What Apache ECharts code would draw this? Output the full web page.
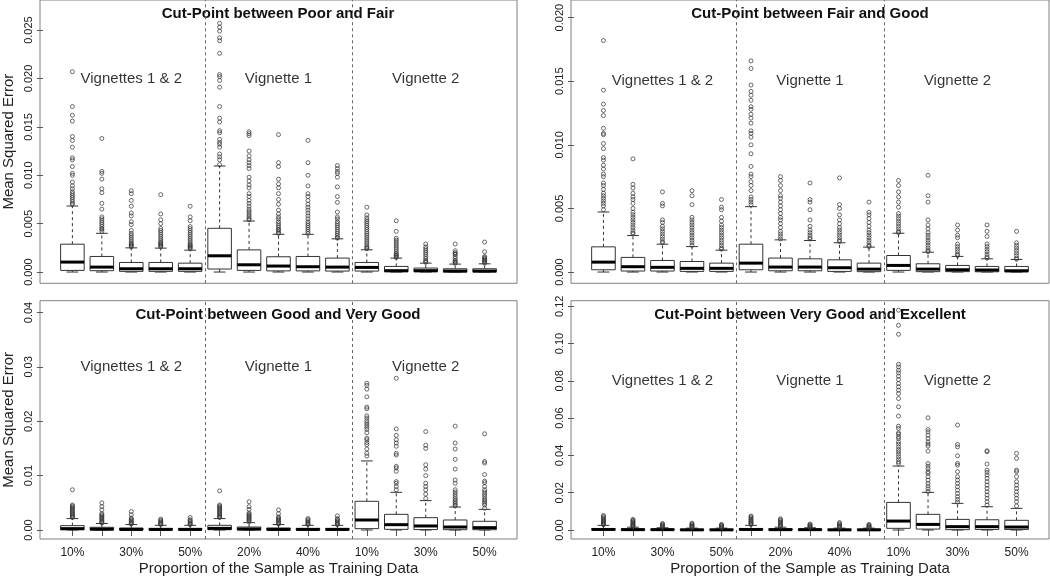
<!DOCTYPE html>
<html><head><meta charset="utf-8">
<script src="https://cdn.jsdelivr.net/npm/echarts@6/dist/echarts.min.js"></script>
<style>html,body{margin:0;padding:0;background:#fff}#c{width:1050px;height:577px}</style>
</head><body><div id="c"></div><script>
const panelTitles = ["Cut-Point between Poor and Fair","Cut-Point between Fair and Good","Cut-Point between Good and Very Good","Cut-Point between Very Good and Excellent"];
const groupLabels = ["Vignettes 1 & 2","Vignette 1","Vignette 2"];
const groupCenters = [3, 8, 13];
const groupLabelY = [0.020, 0.015, 0.030, 0.080];
const boxPositions = [1,2,3,4,5,6,7,8,9,10,11,12,13,14,15];
const xTickLabels = ["10%","20%","30%","40%","50%","10%","20%","30%","40%","50%","10%","20%","30%","40%","50%"];
const xLabelPositions = [1,3,5,7,9,11,13,15];
const groupSeparators = [5.5, 10.5];
const yTicks1 = [0, 0.005, 0.010, 0.015, 0.020, 0.025];
const yTicks2 = [0, 0.005, 0.010, 0.015, 0.020];
const yTicks3 = [0, 0.01, 0.02, 0.03, 0.04];
const yTicks4 = [0, 0.02, 0.04, 0.06, 0.08, 0.10, 0.12];
const yTitle = "Mean Squared Error";
const xTitle = "Proportion of the Sample as Training Data";

// [lower whisker, Q1, median, Q3, upper whisker]
const stats1 = [
 [0,0.00017,0.00103,0.00288,0.00682],[0,0.00014,0.00051,0.00161,0.0040],[0,0.00007,0.00034,0.00099,0.0025],
 [0,0.00007,0.00034,0.00099,0.00247],[0,0.00007,0.00034,0.00092,0.00226],[0,0.00031,0.00168,0.00452,0.01096],
 [0,0.00017,0.00075,0.00229,0.00527],[0,0.00012,0.00062,0.00158,0.0039],[0,0.00012,0.00055,0.00161,0.0039],
 [0,0.00010,0.00051,0.00144,0.00343],[0,0.0001,0.00048,0.00099,0.0023],[0,0.00003,0.00014,0.00058,0.00144],
 [0,0.00003,0.00014,0.00041,0.00092],[0,0.00002,0.0001,0.00034,0.00082],[0,0.00002,0.0001,0.00034,0.00085]];
const out1 = [
 [0.0207,0.0171,0.0162,0.0156,0.0140,0.0136,0.0129,0.0118,0.0116,0.0109,0.0102,0.0100,0.0093,0.0089,0.0086,0.0083,0.0081,0.0079,0.0077,0.0075,0.0073,0.0071,0.0070],
 [0.0138,0.0104,0.0102,0.0096,0.0086,0.0082,0.0071,0.0065,0.0057,0.0055,0.0053,0.0051,0.0049,0.0047,0.0045,0.0044,0.0042],
 [0.0084,0.0081,0.0074,0.0068,0.0061,0.0058,0.0052,0.0049,0.0043,0.0040,0.0038,0.0036,0.0034,0.0032,0.0030,0.0029,0.0028,0.0027,0.0026],
 [0.0080,0.0060,0.0054,0.0050,0.0045,0.0043,0.0041,0.0039,0.0037,0.0035,0.0033,0.0031,0.0030,0.0029,0.0028,0.0027,0.0026],
 [0.0068,0.0057,0.0053,0.0047,0.0045,0.0043,0.0041,0.0039,0.0037,0.0035,0.0033,0.0031,0.0029,0.0028,0.0027,0.0026,0.0025,0.0024],
 [0.0257,0.0253,0.0249,0.0242,0.0239,0.0226,0.0204,0.0202,0.0198,0.0191,0.0171,0.0159,0.0155,0.0146,0.0144,0.0137,0.0134,0.0132,0.0129,0.0122,0.0119,0.0116,0.0111],
 [0.0145,0.0143,0.0141,0.0125,0.0120,0.0116,0.0113,0.0110,0.0107,0.0098,0.0094,0.0090,0.0087,0.0081,0.0078,0.0074,0.0071,0.0068,0.0065,0.0063,0.0061,0.0059,0.0057,0.0055,0.0054],
 [0.0142,0.0113,0.0109,0.0096,0.0091,0.0087,0.0081,0.0075,0.0070,0.0064,0.0060,0.0057,0.0055,0.0052,0.0050,0.0048,0.0046,0.0044,0.0043,0.0041,0.0040],
 [0.0136,0.0113,0.0100,0.0089,0.0081,0.0078,0.0074,0.0070,0.0067,0.0064,0.0061,0.0058,0.0055,0.0052,0.0050,0.0048,0.0046,0.0044,0.0042,0.0040],
 [0.0110,0.0107,0.0104,0.0102,0.0098,0.0088,0.0078,0.0072,0.0062,0.0057,0.0055,0.0052,0.0050,0.0048,0.0046,0.0044,0.0042,0.0040,0.0038,0.0036,0.0035],
 [0.0067,0.0059,0.0056,0.0054,0.0052,0.0050,0.0048,0.0046,0.0044,0.0042,0.0040,0.0038,0.0036,0.0034,0.0032,0.0030,0.0028,0.0026,0.0025,0.0024],
 [0.0053,0.0042,0.0035,0.0033,0.0031,0.0029,0.0027,0.0025,0.0023,0.0021,0.0019,0.0018,0.0017,0.0016,0.0015],
 [0.0029,0.0026,0.0024,0.0022,0.0020,0.0018,0.0016,0.0014,0.0012,0.0011,0.0010],
 [0.0029,0.0022,0.0020,0.0019,0.0018,0.0016,0.0014,0.0012,0.0011,0.0010,0.0009],
 [0.0031,0.0021,0.0016,0.0015,0.0014,0.0013,0.0012,0.0011,0.0010,0.0009]];

const stats2 = [
 [0,0.00018,0.00078,0.00198,0.00472],[0,0.00008,0.00042,0.00115,0.00287],[0,0.00008,0.00037,0.00091,0.00219],
 [0,0.00005,0.00029,0.00083,0.0020],[0,0.00005,0.00029,0.0007,0.00172],[0,0.00018,0.0007,0.00219,0.00514],
 [0,0.00010,0.00039,0.0011,0.00253],[0,0.00010,0.00039,0.00104,0.00248],[0,0.00005,0.00034,0.00096,0.0023],
 [0,0.00003,0.00023,0.0007,0.00196],[0,0.00013,0.00052,0.0013,0.00305],[0,0.00003,0.00023,0.00065,0.00156],
 [0,0.00003,0.00018,0.00052,0.00123],[0,0.00002,0.00016,0.00044,0.00104],[0,0.00002,0.0001,0.00044,0.00099]];
const out2 = [
 [0.0182,0.0143,0.0132,0.0127,0.0123,0.0113,0.0109,0.0108,0.0101,0.0097,0.0090,0.0088,0.0084,0.0081,0.0077,0.0075,0.0070,0.0068,0.0065,0.0062,0.0060,0.0058,0.0056,0.0054,0.0052,0.0049],
 [0.0089,0.0069,0.0066,0.0062,0.0059,0.0057,0.0054,0.0050,0.0047,0.0045,0.0043,0.0041,0.0039,0.0037,0.0035,0.0033,0.0031,0.0030],
 [0.0063,0.0054,0.0052,0.0041,0.0039,0.0036,0.0034,0.0032,0.0030,0.0028,0.0026,0.0024,0.0023],
 [0.0064,0.0060,0.0053,0.0043,0.0041,0.0039,0.0037,0.0035,0.0033,0.0031,0.0029,0.0027,0.0025,0.0023,0.0021],
 [0.0057,0.0051,0.0049,0.0043,0.0040,0.0037,0.0035,0.0033,0.0031,0.0029,0.0027,0.0025,0.0023,0.0021,0.0019,0.0018],
 [0.0166,0.0160,0.0147,0.0142,0.0139,0.0135,0.0130,0.0128,0.0124,0.0121,0.0117,0.0111,0.0109,0.0106,0.0100,0.0093,0.0083,0.0077,0.0075,0.0071,0.0068,0.0064,0.0059,0.0057,0.0055,0.0053],
 [0.0075,0.0072,0.0068,0.0064,0.0060,0.0058,0.0055,0.0052,0.0049,0.0046,0.0043,0.0041,0.0038,0.0035,0.0032,0.0030,0.0028,0.0026],
 [0.0070,0.0057,0.0055,0.0049,0.0041,0.0036,0.0033,0.0031,0.0029,0.0027,0.0026],
 [0.0074,0.0053,0.0050,0.0045,0.0041,0.0038,0.0035,0.0033,0.0031,0.0029,0.0027,0.0025,0.0024],
 [0.0055,0.0047,0.0045,0.0042,0.0039,0.0036,0.0033,0.0031,0.0029,0.0027,0.0025,0.0023,0.0021,0.0020],
 [0.0072,0.0068,0.0063,0.0059,0.0055,0.0051,0.0046,0.0044,0.0042,0.0040,0.0038,0.0036,0.0034,0.0032,0.0031],
 [0.0076,0.0060,0.0055,0.0041,0.0037,0.0034,0.0031,0.0029,0.0027,0.0025,0.0023,0.0021,0.0019,0.0017,0.0016],
 [0.0037,0.0033,0.0029,0.0027,0.0022,0.0020,0.0018,0.0016,0.0014,0.0013],
 [0.0037,0.0032,0.0028,0.0022,0.0020,0.0018,0.0016,0.0014,0.0012,0.0011],
 [0.0032,0.0023,0.0021,0.0019,0.0017,0.0015,0.0013,0.0011,0.0010]];

const stats3 = [
 [0,0.00005,0.00025,0.0008,0.0021],[0,0.00003,0.00015,0.0005,0.0012],[0,0.00002,0.0001,0.00037,0.001],
 [0,0.00002,0.0001,0.0003,0.00086],[0,0.00002,0.0001,0.0003,0.00086],[0,0.00006,0.0003,0.00086,0.0021],
 [0,0.00003,0.00018,0.00055,0.00135],[0,0.00002,0.0001,0.00037,0.001],[0,0.00002,0.0001,0.0003,0.00086],
 [0,0.00002,0.0001,0.0003,0.00086],[0,0.00025,0.00184,0.00528,0.0127],[0,0.00012,0.00098,0.00288,0.00693],
 [0,0.00008,0.00074,0.00227,0.0054],[0,0.00006,0.00055,0.00184,0.00423],[0,0.00005,0.00043,0.0016,0.0038]];
const out3 = [
 [0.0074,0.0046,0.0044,0.0042,0.0040,0.0038,0.0036,0.0034,0.0032,0.0030,0.0028,0.0026,0.0024,0.0023],
 [0.0050,0.0043,0.0037,0.0030,0.0028,0.0026,0.0024,0.0022,0.0020,0.0018,0.0016,0.0014,0.0013],
 [0.0034,0.0028,0.0022,0.0020,0.0018,0.0016,0.0014,0.0012,0.0011],
 [0.0020,0.0018,0.0016,0.0014,0.0012,0.0011,0.0010],
 [0.0023,0.0019,0.0017,0.0015,0.0013,0.0011,0.0010],
 [0.0072,0.0046,0.0044,0.0042,0.0040,0.0038,0.0036,0.0034,0.0032,0.0030,0.0028,0.0026,0.0024,0.0023],
 [0.0052,0.0043,0.0038,0.0031,0.0029,0.0027,0.0025,0.0023,0.0021,0.0019,0.0017,0.0015],
 [0.0037,0.0030,0.0024,0.0022,0.0020,0.0018,0.0016,0.0014,0.0012,0.0011],
 [0.0021,0.0019,0.0017,0.0015,0.0013,0.0011,0.0010],
 [0.0026,0.0021,0.0019,0.0017,0.0015,0.0013,0.0011,0.0010],
 [0.0270,0.0266,0.0259,0.0245,0.0226,0.0223,0.0210,0.0206,0.0201,0.0197,0.0193,0.0189,0.0185,0.0179,0.0169,0.0166,0.0161,0.0157,0.0149,0.0141,0.0136],
 [0.0279,0.0186,0.0174,0.0166,0.0160,0.0154,0.0141,0.0138,0.0117,0.0114,0.0108,0.0089,0.0086,0.0080,0.0074],
 [0.0181,0.0156,0.0150,0.0120,0.0112,0.0100,0.0086,0.0080,0.0074,0.0066,0.0058],
 [0.0191,0.0160,0.0149,0.0130,0.0112,0.0092,0.0086,0.0074,0.0070,0.0066,0.0062,0.0058,0.0055,0.0052,0.0049,0.0046,0.0044],
 [0.0177,0.0126,0.0123,0.0102,0.0090,0.0087,0.0080,0.0074,0.0070,0.0066,0.0062,0.0058,0.0055,0.0052,0.0049,0.0046,0.0040]];

const stats4 = [
 [0,0.0001,0.0003,0.0008,0.0025],[0,0.0001,0.0002,0.0006,0.0015],[0,0.00005,0.0002,0.0005,0.0012],
 [0,0.00005,0.0001,0.0004,0.001],[0,0.00005,0.0001,0.0004,0.001],[0,0.0001,0.0003,0.0008,0.0025],
 [0,0.0001,0.0002,0.0006,0.0015],[0,0.00005,0.0002,0.0005,0.0012],[0,0.00005,0.0001,0.0004,0.001],
 [0,0.00005,0.0001,0.0004,0.001],[0,0.0009,0.0048,0.0148,0.0343],[0,0.0005,0.003,0.0084,0.0202],
 [0,0.0002,0.0018,0.0057,0.0143],[0,0.0003,0.0018,0.0055,0.0125],[0,0.0003,0.0016,0.0052,0.0116]];
const out4 = [
 [0.0078,0.0072,0.0066,0.0060,0.0055,0.0050,0.0045,0.0040,0.0036,0.0032,0.0028],
 [0.0057,0.0052,0.0047,0.0042,0.0037,0.0032,0.0028,0.0024,0.0020,0.0017],
 [0.0035,0.0030,0.0026,0.0022,0.0018,0.0014],
 [0.0037,0.0032,0.0027,0.0023,0.0019,0.0015,0.0012],
 [0.0030,0.0026,0.0022,0.0018,0.0014,0.0012],
 [0.0075,0.0070,0.0064,0.0058,0.0052,0.0047,0.0042,0.0037,0.0033,0.0029],
 [0.0060,0.0055,0.0050,0.0044,0.0038,0.0032,0.0027,0.0022,0.0018],
 [0.0032,0.0028,0.0024,0.0020,0.0016,0.0013],
 [0.0040,0.0034,0.0029,0.0024,0.0019,0.0015,0.0012],
 [0.0030,0.0026,0.0022,0.0018,0.0014,0.0012],
 [0.1179,0.1098,0.1050,0.0889,0.0875,0.0857,0.0843,0.0825,0.0807,0.0786,0.0768,0.0750,0.0732,0.0705,0.0661,0.0611,0.0557,0.0545,0.0521,0.0514,0.0500,0.0491,0.0473,0.0461,0.0446,0.0432,0.0420,0.0407,0.0393,0.0379,0.0366,0.0357],
 [0.0602,0.0539,0.0527,0.0509,0.0491,0.0473,0.0461,0.0450,0.0423,0.0357,0.0343,0.0330,0.0313,0.0304,0.0286,0.0268,0.0250,0.0236,0.0221,0.0207],
 [0.0563,0.0459,0.0446,0.0398,0.0357,0.0348,0.0313,0.0286,0.0268,0.0250,0.0232,0.0214,0.0196,0.0179,0.0164,0.0150],
 [0.0425,0.0420,0.0354,0.0321,0.0309,0.0295,0.0277,0.0259,0.0241,0.0223,0.0205,0.0188,0.0170,0.0152,0.0134],
 [0.0411,0.0384,0.0321,0.0313,0.0286,0.0259,0.0241,0.0223,0.0205,0.0188,0.0170,0.0152,0.0129]];

const allStats = [stats1, stats2, stats3, stats4];
const allOut = [out1, out2, out3, out4];
const allYTicks = [yTicks1, yTicks2, yTicks3, yTicks4];
const yDecimals = [3, 3, 2, 2];
const yMin = [-0.001163, -0.000885, -0.001655, -0.00482];
const yMax = [0.02811, 0.021387, 0.04217, 0.1230];

const FONT = "'Liberation Sans', Arial, sans-serif";
const grids = [
  {left: 39, top: -1, width: 478, height: 284.3},
  {left: 571, top: -1, width: 478, height: 284.3},
  {left: 39, top: 300.7, width: 478, height: 238.3},
  {left: 571, top: 300.7, width: 478, height: 238.3}
];

function renderBox(params, api) {
  const x = api.value(0);
  const y = [1,2,3,4,5].map(i => api.coord([x, api.value(i)])[1]);
  const cx = api.coord([x, 0])[0];
  const half = api.size([0.8, 0])[0] / 2;
  const stap = half / 2;
  const dash = {stroke: '#333', lineWidth: 1, lineDash: [3, 3]};
  const solid = {stroke: '#333', lineWidth: 1};
  return {type: 'group', children: [
    {type: 'line', shape: {x1: cx, y1: y[3], x2: cx, y2: y[4]}, style: dash},
    {type: 'line', shape: {x1: cx, y1: y[0], x2: cx, y2: y[1]}, style: dash},
    {type: 'line', shape: {x1: cx - stap, y1: y[4], x2: cx + stap, y2: y[4]}, style: solid},
    {type: 'line', shape: {x1: cx - stap, y1: y[0], x2: cx + stap, y2: y[0]}, style: solid},
    {type: 'rect', shape: {x: cx - half, y: y[3], width: 2 * half, height: y[1] - y[3]}, style: {fill: '#fff', stroke: '#333', lineWidth: 1}},
    {type: 'line', shape: {x1: cx - half, y1: y[2], x2: cx + half, y2: y[2]}, style: {stroke: '#000', lineWidth: 3}}
  ]};
}

const xAxes = [], yAxes = [], series = [], graphics = [];
for (let p = 0; p < 4; p++) {
  const bottom = p >= 2, left = (p % 2) === 0;
  xAxes.push({
    type: 'value', gridIndex: p, min: -0.1, max: 16.1,
    axisLine: {show: false}, splitLine: {show: false},
    axisTick: {show: bottom, customValues: boxPositions, length: 6, lineStyle: {color: '#555'}},
    axisLabel: {show: bottom, customValues: xLabelPositions, margin: 8, fontSize: 12, color: '#222', fontFamily: FONT,
      formatter: v => xTickLabels[Math.round(v) - 1]},
    name: bottom ? xTitle : '', nameLocation: 'middle', nameGap: 22,
    nameTextStyle: {fontSize: 15, color: '#222', fontFamily: FONT}
  });
  yAxes.push({
    type: 'value', gridIndex: p, min: yMin[p], max: yMax[p],
    axisLine: {show: false}, splitLine: {show: false},
    axisTick: {show: true, customValues: allYTicks[p], length: 6, lineStyle: {color: '#555'}},
    axisLabel: {customValues: allYTicks[p], rotate: 90, margin: 6, fontSize: 11, color: '#222', fontFamily: FONT,
      formatter: v => v.toFixed(yDecimals[p])},
    name: left ? yTitle : '', nameLocation: 'middle', nameRotate: 90, nameGap: 24,
    nameTextStyle: {fontSize: 15, color: '#222', fontFamily: FONT}
  });
  series.push({
    type: 'custom', xAxisIndex: p, yAxisIndex: p, renderItem: renderBox, silent: true, z: 3,
    encode: {x: 0, y: [1,2,3,4,5]},
    data: allStats[p].map((s, i) => [boxPositions[i]].concat(s)),
    markLine: {silent: true, symbol: 'none', label: {show: false},
      lineStyle: {type: [3, 3], color: '#666', width: 1},
      data: groupSeparators.map(v => ({xAxis: v}))}
  });
  const pts = [];
  allOut[p].forEach((arr, i) => arr.forEach(v => pts.push([boxPositions[i], v])));
  series.push({
    type: 'scatter', xAxisIndex: p, yAxisIndex: p, silent: true, z: 4,
    symbol: 'circle', symbolSize: 4,
    itemStyle: {color: 'rgba(0,0,0,0)', borderColor: '#333', borderWidth: 0.9},
    data: pts
  });
  series.push({
    type: 'scatter', xAxisIndex: p, yAxisIndex: p, silent: true, z: 5, symbolSize: 0,
    label: {show: true, position: 'inside', fontSize: 15, color: '#000', textBorderWidth: 0, fontFamily: FONT,
      formatter: q => q.data[2]},
    data: groupCenters.map((c, i) => [c, groupLabelY[p], groupLabels[i]])
  });
  const g = grids[p];
  graphics.push({type: 'text', x: g.left + g.width / 2, y: bottom ? 314.5 : 14,
    style: {text: panelTitles[p], textAlign: 'center', textVerticalAlign: 'middle',
      font: "bold 15px 'Liberation Sans', Arial, sans-serif", fill: '#111'}});
}

const chart = echarts.init(document.getElementById('c'), null, {renderer: 'canvas'});
chart.setOption({
  animation: false,
  backgroundColor: '#fff',
  grid: grids.map(g => Object.assign({show: true, borderColor: '#808080', borderWidth: 1, backgroundColor: 'transparent', containLabel: false}, g)),
  xAxis: xAxes, yAxis: yAxes, series: series, graphic: graphics
});
</script></body></html>
